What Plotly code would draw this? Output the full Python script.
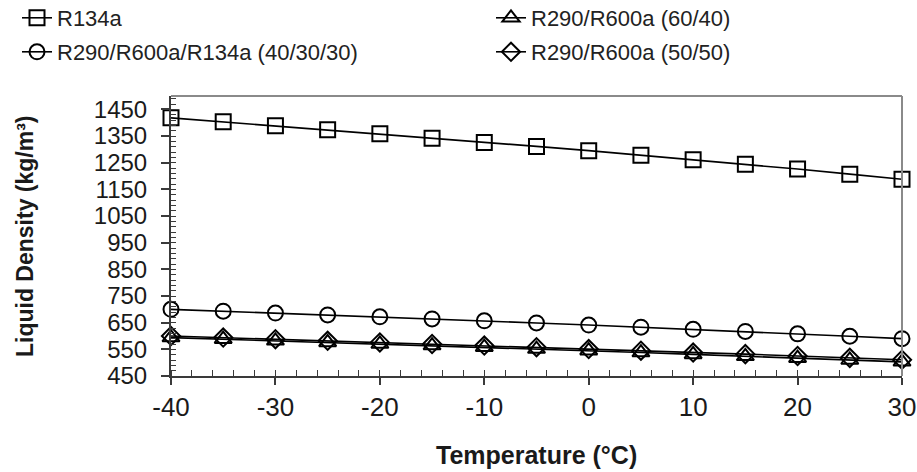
import plotly.graph_objects as go

temps = [-40, -35, -30, -25, -20, -15, -10, -5, 0, 5, 10, 15, 20, 25, 30]
r134a = [1418, 1403, 1388, 1373, 1358, 1342, 1326, 1311, 1295, 1278, 1261, 1244, 1226, 1207, 1188]
mix_403030 = [700, 693, 686, 679, 672, 664, 657, 649, 641, 633, 625, 617, 608, 599, 590]
mix_6040 = [594, 588, 582, 576, 570, 564, 558, 551, 545, 538, 531, 524, 517, 510, 503]
mix_5050 = [600, 594, 588, 582, 576, 570, 564, 558, 551, 545, 538, 532, 525, 518, 511]

x_tick_vals = [-40, -30, -20, -10, 0, 10, 20, 30]
x_tick_labels = ["-40", "-30", "-20", "-10", "0", "10", "20", "30"]
y_tick_vals = [450, 550, 650, 750, 850, 950, 1050, 1150, 1250, 1350, 1450]
y_tick_labels = ["450", "550", "650", "750", "850", "950", "1050", "1150", "1250", "1350", "1450"]

names = ["R134a", "R290/R600a (60/40)", "R290/R600a/R134a (40/30/30)", "R290/R600a (50/50)"]
series = [r134a, mix_6040, mix_403030, mix_5050]
symbols = ["square-open", "triangle-up-open", "circle-open", "diamond-open"]
sizes = [15, 15, 15, 14]
legends = ["legend", "legend2", "legend3", "legend4"]

FONT = "Liberation Sans, Arial, sans-serif"

fig = go.Figure()
for name, ys, sym, sz, lg in zip(names, series, symbols, sizes, legends):
    fig.add_trace(go.Scatter(
        x=temps, y=ys, name=name, mode="lines+markers",
        line=dict(color="black", width=1.6),
        marker=dict(symbol=sym, size=sz, color="black", line=dict(color="black", width=2)),
        legend=lg, cliponaxis=False,
    ))

W, H = 917, 472
# plot area in screen pixels: x 171..902, y 96..376
L, T = 171, 96
R, B = W - 902, H - 376
pw, ph = W - L - R, H - T - B

def px_x(sx):
    return (sx - L) / pw

def px_y(sy):
    return (H - B - sy) / ph

legend_pos = {
    "legend": (17, 18),
    "legend2": (491, 18),
    "legend3": (17, 52),
    "legend4": (491, 52),
}
lay = {}
for k, (lx, ly) in legend_pos.items():
    lay[k] = dict(x=lx / W, y=1 - ly / H, xref="container", yref="container",
                  xanchor="left", yanchor="middle",
                  font=dict(family=FONT, size=22, color="#222"),
                  bgcolor="rgba(0,0,0,0)", itemwidth=30)

fig.update_layout(
    width=W, height=H,
    margin=dict(l=L, r=R, t=T, b=B, autoexpand=False),
    paper_bgcolor="white", plot_bgcolor="white",
    font=dict(family=FONT, size=22, color="#222"),
    showlegend=True,
    **lay,
)

fig.update_xaxes(
    range=[-40, 30], tickmode="array", tickvals=x_tick_vals, ticktext=x_tick_labels,
    showgrid=False, zeroline=False,
    showline=True, linecolor="#3a3a3a", linewidth=2,
    ticks="outside", ticklen=7, tickwidth=1.5, tickcolor="#3a3a3a",
    ticklabelstandoff=0,
    tickfont=dict(family=FONT, size=26, color="#1a1a1a"),
    minor=dict(dtick=2, ticks="inside", ticklen=6, tickwidth=1.2, tickcolor="#3a3a3a", showgrid=False),
)
fig.update_yaxes(
    range=[450, 1500], tickmode="array", tickvals=y_tick_vals, ticktext=y_tick_labels,
    showgrid=False, zeroline=False,
    showline=True, linecolor="#3a3a3a", linewidth=2,
    ticks="outside", ticklen=8, tickwidth=1.5, tickcolor="#3a3a3a",
    ticklabelstandoff=9,
    tickfont=dict(family=FONT, size=24, color="#1a1a1a"),
    minor=dict(tick0=450, dtick=20, ticks="inside", ticklen=5, tickwidth=1.2, tickcolor="#3a3a3a", showgrid=False),
)

# top and right frame lines (grey)
fig.add_shape(type="line", xref="paper", yref="paper", x0=0, x1=1, y0=1, y1=1,
              line=dict(color="#8a8a8a", width=2))
fig.add_shape(type="line", xref="paper", yref="paper", x0=1, x1=1, y0=0, y1=1,
              line=dict(color="#8a8a8a", width=2))

fig.add_annotation(text="<b>Liquid Density (kg/m³)</b>", xref="paper", yref="paper",
                   x=px_x(25), y=0.5, textangle=-90, showarrow=False,
                   xanchor="center", yanchor="middle",
                   font=dict(family=FONT, size=23, color="#1a1a1a"))
fig.add_annotation(text="<b>Temperature (°C)</b>", xref="paper", yref="paper",
                   x=0.5, y=px_y(455), showarrow=False,
                   xanchor="center", yanchor="middle",
                   font=dict(family=FONT, size=25, color="#1a1a1a"))

fig.write_html(
    "out.html",
    config={"displayModeBar": False},
    post_script="document.documentElement.style.margin='0';document.body.style.margin='0';"
                "document.body.style.overflow='hidden';",
)
